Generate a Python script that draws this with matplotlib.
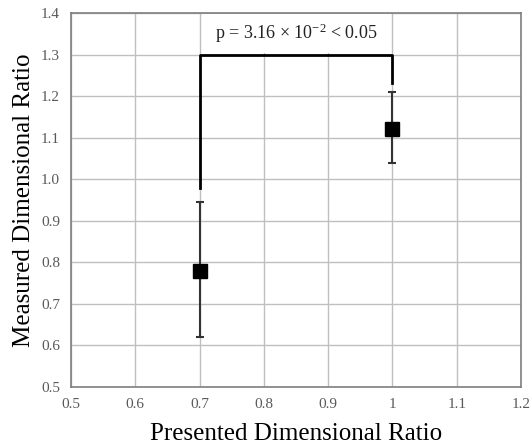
import numpy as np
import matplotlib.pyplot as plt
from matplotlib.patches import Rectangle

# data
presented = [0.7, 1.0]
measured = [0.78, 1.12]
err_low = [0.62, 1.04]
err_high = [0.945, 1.21]

# significance bracket
bracket_x = [0.7, 0.7, 1.0, 1.0]
bracket_y = [0.978, 1.3, 1.3, 1.232]
p_text = "p = 3.16 × 10$^{-2}$ < 0.05"

xticks = [0.5, 0.6, 0.7, 0.8, 0.9, 1.0, 1.1, 1.2]
xtick_labels = ["0.5", "0.6", "0.7", "0.8", "0.9", "1", "1.1", "1.2"]
yticks = np.round(np.arange(0.5, 1.41, 0.1), 1)

plt.rcParams["font.family"] = ["Liberation Serif", "DejaVu Serif"]
plt.rcParams["mathtext.fontset"] = "custom"
plt.rcParams["mathtext.rm"] = "Liberation Serif"
plt.rcParams["mathtext.it"] = "Liberation Serif"

fig = plt.figure(figsize=(5.31, 4.45), dpi=100)
ax = fig.add_axes([71 / 531, 1 - 387 / 445, 450 / 531, 374 / 445])

y = np.array(measured)
yerr = [y - np.array(err_low), np.array(err_high) - y]
ax.errorbar(presented, measured, yerr=yerr, fmt="s", color="black",
            ecolor="#333333", elinewidth=1.5, capsize=3, capthick=1.5,
            markersize=10.5, zorder=4)

ax.plot(bracket_x, bracket_y, color="black", linewidth=2, zorder=3)

ax.add_patch(Rectangle((0.703, 1.303), 0.294, 0.094, facecolor="white",
                       edgecolor="none", zorder=2))
ax.text(0.85, 1.352, p_text, ha="center", va="center", fontsize=13,
        color="#222222", zorder=5)

ax.set_xlim(0.5, 1.2)
ax.set_ylim(0.5, 1.4)
ax.set_xticks(xticks)
ax.set_xticklabels(xtick_labels)
ax.set_yticks(yticks)
ax.set_yticklabels([f"{v:.1f}" for v in yticks])
ax.tick_params(length=0, labelsize=11, labelcolor="#595959", pad=8)

ax.grid(True, color="#bfbfbf", linewidth=1)
ax.set_axisbelow(True)
for s in ax.spines.values():
    s.set_color("#7f7f7f")
    s.set_linewidth(1.2)

ax.set_xlabel("Presented Dimensional Ratio", fontsize=18, va="center")
ax.set_ylabel("Measured Dimensional Ratio", fontsize=18, va="center")
ax.xaxis.set_label_coords(0.5, (387 - 434) / 374)
ax.yaxis.set_label_coords((24 - 71) / 450, 0.5)

fig.savefig("out.png", dpi=100)
